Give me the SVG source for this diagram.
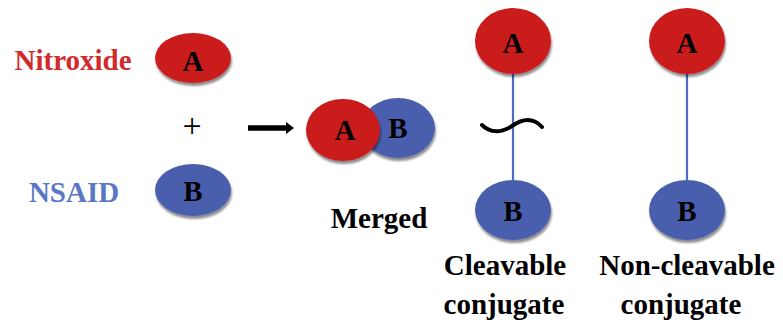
<svg xmlns="http://www.w3.org/2000/svg" width="783" height="322" viewBox="0 0 783 322">
  <defs>
    <filter id="shadow" x="-20%" y="-20%" width="140%" height="150%">
      <feGaussianBlur in="SourceAlpha" stdDeviation="1.2"/>
      <feOffset dx="1" dy="3" result="off"/>
      <feComponentTransfer><feFuncA type="linear" slope="0.45"/></feComponentTransfer>
      <feMerge><feMergeNode/><feMergeNode in="SourceGraphic"/></feMerge>
    </filter>
  </defs>
  <style>
    .red { fill: #cb1a1f; filter: url(#shadow); }
    .blue { fill: #4a5fae; filter: url(#shadow); }
    .lbl { font-weight: bold; font-size: 29px; text-anchor: middle; fill: #000; }
    .link { stroke: #4d6cc2; stroke-width: 2.2; fill: none; }
  </style>
  <rect width="783" height="322" fill="#fff"/>

  <g font-family="Liberation Serif, Times New Roman, serif">
    <!-- side labels -->
    <text class="lbl" x="73" y="70" fill="#d22a2c" style="fill:#d22a2c">Nitroxide</text>
    <text class="lbl" x="74" y="202" style="fill:#5a77c6">NSAID</text>
    <text x="192" y="137" font-size="34" text-anchor="middle" fill="#000">+</text>

    <!-- separate components -->
    <g id="nitroxide-a">
      <ellipse class="red" cx="193" cy="58" rx="38" ry="25"/>
      <text class="lbl" x="193" y="71">A</text>
    </g>
    <g id="nsaid-b">
      <ellipse class="blue" cx="193" cy="190" rx="38" ry="26"/>
      <text class="lbl" x="193" y="201">B</text>
    </g>

    <!-- merged hybrid -->
    <g id="merged">
      <ellipse class="blue" cx="398" cy="128" rx="37" ry="30"/>
      <ellipse class="red" cx="343" cy="130" rx="37" ry="31"/>
      <text class="lbl" x="345" y="140">A</text>
      <text class="lbl" x="398" y="138">B</text>
      <text class="lbl" x="379" y="228">Merged</text>
    </g>

    <!-- connectors -->
    <g id="connectors">
      <path d="M248,128 H287" stroke="#000" stroke-width="5.5"/>
      <polygon points="286,122 294,128 286,134" fill="#000"/>
      <line class="link" x1="513" y1="74" x2="513" y2="182"/>
      <line class="link" x1="687" y1="74" x2="687" y2="182"/>
      <path d="M482,125 C490,133 501,133 512,126 C522,119 533,117 542,127" stroke="#000" stroke-width="4" fill="none" stroke-linecap="round"/>
    </g>

    <!-- cleavable conjugate -->
    <g id="cleavable-a">
      <ellipse class="red" cx="513" cy="41" rx="38" ry="33"/>
      <text class="lbl" x="513" y="53">A</text>
    </g>
    <g id="cleavable-b">
      <ellipse class="blue" cx="513" cy="210" rx="38" ry="30"/>
      <text class="lbl" x="513" y="221">B</text>
    </g>
    <text class="lbl" x="505" y="275">Cleavable</text>
    <text class="lbl" x="504" y="314">conjugate</text>

    <!-- non-cleavable conjugate -->
    <g id="noncleavable-a">
      <ellipse class="red" cx="687" cy="41" rx="38" ry="33"/>
      <text class="lbl" x="687" y="53">A</text>
    </g>
    <g id="noncleavable-b">
      <ellipse class="blue" cx="687" cy="210" rx="38" ry="30"/>
      <text class="lbl" x="687" y="221">B</text>
    </g>
    <text class="lbl" x="687" y="275">Non-cleavable</text>
    <text class="lbl" x="681" y="314">conjugate</text>
  </g>
</svg>
